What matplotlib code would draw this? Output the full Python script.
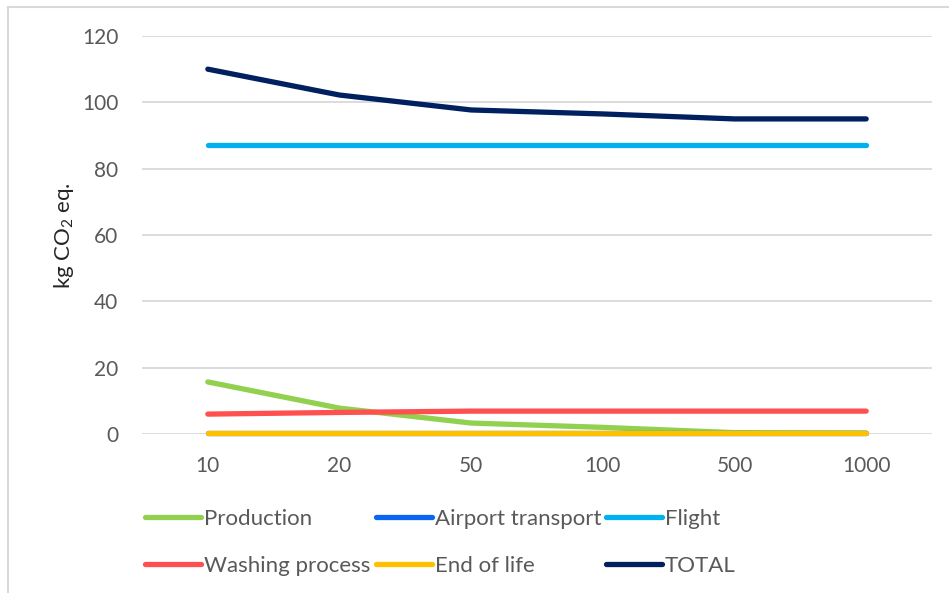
import matplotlib
matplotlib.use("Agg")
import matplotlib.pyplot as plt
from matplotlib.lines import Line2D

plt.rcParams['font.family'] = ['Lato', 'DejaVu Sans']
plt.rcParams['mathtext.default'] = 'regular'

# Number of uses (categorical x axis)
categories = ["10", "20", "50", "100", "500", "1000"]

# Emissions per life-cycle stage, kg CO2 eq.
production = [15.7, 7.8, 3.3, 2.0, 0.4, 0.3]
airport_transport = [0.4, 0.4, 0.4, 0.4, 0.4, 0.4]
flight = [87.1, 87.1, 87.1, 87.1, 87.1, 87.1]
washing_process = [6.0, 6.5, 6.9, 6.9, 6.9, 6.9]
end_of_life = [0.2, 0.2, 0.2, 0.2, 0.2, 0.2]
total = [110.0, 102.2, 97.7, 96.5, 95.0, 95.0]

series = [
    ("Production", production, "#92D050"),
    ("Airport transport", airport_transport, "#0A66EE"),
    ("Flight", flight, "#00B0F0"),
    ("Washing process", washing_process, "#FF5050"),
    ("End of life", end_of_life, "#FFC000"),
    ("TOTAL", total, "#002060"),
]

W, H = 949, 593
fig = plt.figure(figsize=(W / 100, H / 100), dpi=100)
fig.patch.set_facecolor("white")

# Light frame along the top and left edges
fig.add_artist(Line2D([8 / W, 1.0], [1 - 7 / H, 1 - 7 / H], color="#D9D9D9", lw=1.5,
                      transform=fig.transFigure))
fig.add_artist(Line2D([8 / W, 8 / W], [0.0, 1 - 7 / H], color="#D9D9D9", lw=1.5,
                      transform=fig.transFigure))

left, right = 142 / W, 932 / W
bottom, top = 1 - 434 / H, 1 - 36 / H
ax = fig.add_axes([left, bottom, right - left, top - bottom])

x = list(range(len(categories)))
lines = {}
for name, vals, color in series:
    ln, = ax.plot(x, vals, color=color, lw=3.8, solid_capstyle="round",
                  solid_joinstyle="round", label=name, zorder=3, clip_on=False)
    lines[name] = ln

ax.set_xlim(-0.5, len(categories) - 0.5)
ax.set_ylim(0, 120)
ax.set_yticks(range(0, 121, 20))
ax.set_xticks(x)
ax.set_xticklabels(categories)
ax.grid(axis="y", color="#D9D9D9", lw=1.3, zorder=0)
ax.set_axisbelow(True)
for s in ax.spines.values():
    s.set_visible(False)
ax.tick_params(axis="both", length=0, colors="#595959", labelsize=15)
ax.tick_params(axis="y", pad=17)
ax.tick_params(axis="x", pad=16)

fig.text(64 / W, 1 - 236 / H, "kg CO$_2$ eq.", rotation=90, ha="center",
         va="center", fontsize=16, color="#262626")

# Legend laid out in three columns, two rows
columns = [("Production", "Washing process"),
           ("Airport transport", "End of life"),
           ("Flight", "TOTAL")]
col_x = [145, 376, 606]
for names, cx in zip(columns, col_x):
    leg = fig.legend([lines[n] for n in names], list(names), ncol=1,
                     frameon=False, loc="upper left",
                     bbox_to_anchor=(cx / W, 1 - 509 / H),
                     fontsize=16, handlelength=2.52, handletextpad=0.13,
                     labelspacing=1.2, borderaxespad=0, borderpad=0)
    for t in leg.get_texts():
        t.set_color("#595959")

fig.savefig("out.png", dpi=100, facecolor="white")
